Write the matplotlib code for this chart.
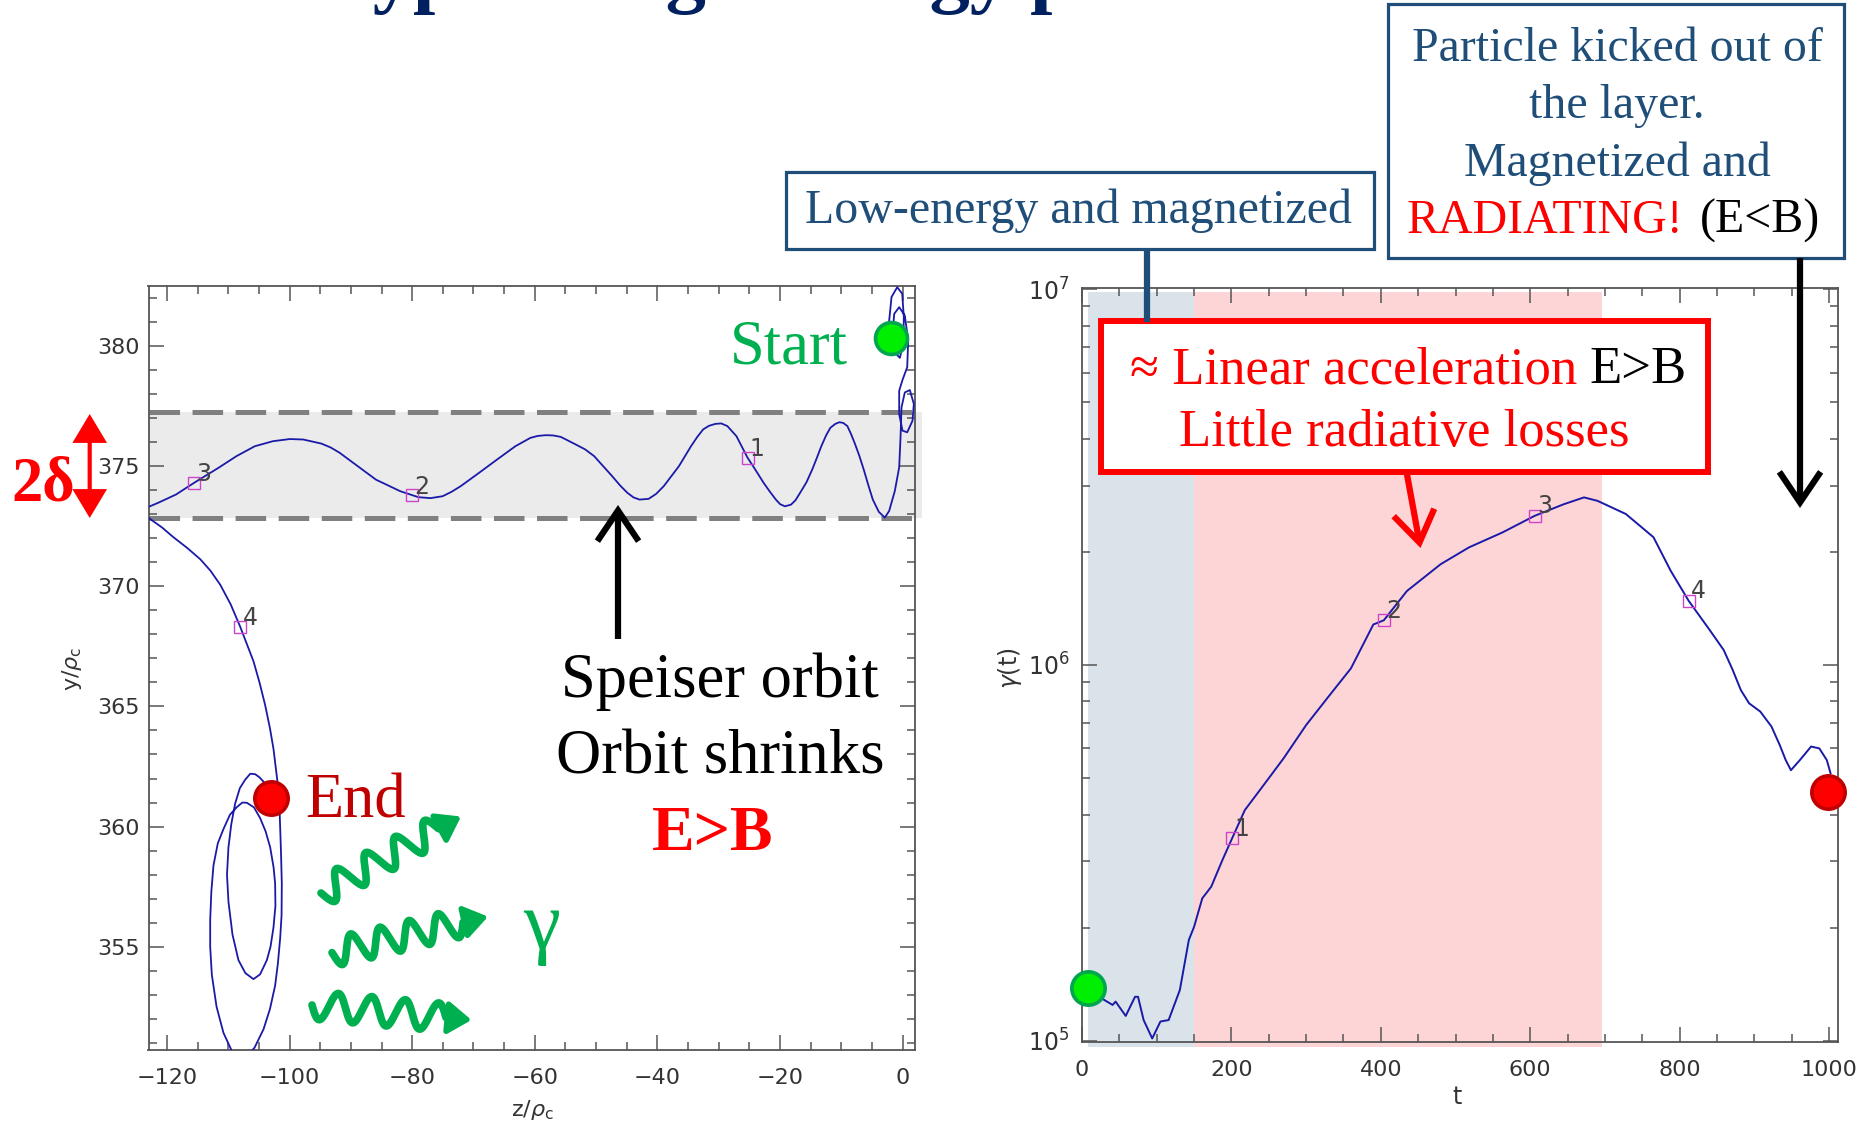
import numpy as np
import matplotlib.pyplot as plt
from matplotlib.patches import Rectangle
from matplotlib.ticker import MultipleLocator, LogLocator, NullFormatter

plt.rcParams['lines.scale_dashes'] = False

# orbit of the particle in the (z, y) plane, in units of rho_c
# gyration near the start point
start_z = [-1.99, -2.21, -1.83, -0.90, -0.09, 0.18, 0.07, -0.47, -1.34, -1.67,
           -1.39, -0.58, 0.34, 0.89, 0.73, -0.04, -0.58, -0.58, -0.04, 0.73,
           1.59, 1.81, 1.16, 0.34, -0.20, -0.36, -0.58, -1.29, -2.21, -2.92]
start_y = [380.34, 381.06, 382.04, 382.45, 382.18, 381.20, 380.09, 379.51, 379.74, 380.51,
           381.34, 381.62, 381.27, 380.23, 379.12, 378.59, 378.14, 377.17, 376.48, 376.41,
           376.89, 377.59, 378.17, 378.07, 377.45, 376.20, 374.95, 373.97, 373.14, 372.86]
# Speiser orbit inside the layer
speiser_z = [-3.90, -4.88, -5.60, -6.36, -7.10, -7.85, -8.45, -9.03, -9.70, -10.32,
             -11.00, -11.80, -12.50, -13.28, -14.00, -14.76, -15.70, -16.74, -17.50, -18.22,
             -19.21, -20.00, -20.69, -21.70, -22.67, -24.15, -25.30, -26.20, -27.12, -28.60,
             -29.60, -30.57, -31.60, -32.55, -33.50, -34.53, -36.50, -38.97, -40.20, -41.44,
             -42.92, -43.90, -44.90, -46.10, -47.37, -50.33, -51.80, -53.30, -55.77, -57.00,
             -58.23, -59.50, -60.71, -63.18, -66.14, -69.11, -72.08, -73.60, -75.04, -77.02,
             -78.99, -81.96, -85.91, -88.87, -91.84, -93.30, -94.80, -97.77, -99.94, -102.71,
             -105.67, -108.64, -111.60, -115.55, -118.52, -121.48, -122.96, -124.00]
speiser_y = [373.10, 373.61, 374.20, 374.86, 375.45, 375.97, 376.35, 376.67, 376.80, 376.83,
             376.76, 376.60, 376.28, 375.83, 375.35, 374.86, 374.33, 373.89, 373.58, 373.40,
             373.33, 373.42, 373.61, 373.95, 374.30, 374.90, 375.35, 375.80, 376.25, 376.67,
             376.78, 376.76, 376.68, 376.53, 376.22, 375.83, 375.00, 374.17, 373.85, 373.64,
             373.61, 373.70, 373.89, 374.20, 374.58, 375.42, 375.70, 375.90, 376.22, 376.28,
             376.29, 376.26, 376.18, 375.83, 375.28, 374.72, 374.17, 373.93, 373.75, 373.67,
             373.71, 373.96, 374.44, 375.00, 375.56, 375.78, 375.94, 376.11, 376.13, 376.04,
             375.83, 375.42, 374.93, 374.31, 373.82, 373.47, 373.31, 373.10]
# ejection from the layer and final gyration
exit_z = [-122.72, -120.80, -118.92, -116.70, -114.57, -112.90, -111.31, -109.60, -108.05, -106.90,
          -105.88, -104.90, -103.98, -103.20, -102.62, -101.97, -101.60, -101.40, -101.26, -101.30,
          -101.53, -101.90, -102.35, -103.20, -104.25, -105.70, -107.51, -109.30, -110.77, -111.90,
          -112.67, -112.94, -112.94, -112.75, -112.40, -111.70, -110.77, -109.70, -108.59, -107.70,
          -106.96, -105.80, -104.79, -103.90, -103.16, -102.60, -102.35, -102.30, -102.62, -103.10,
          -103.70, -104.80, -105.88, -107.20, -108.33, -109.30, -109.96, -110.20, -109.96, -109.50,
          -108.87, -108.10, -107.24, -106.40, -105.61, -104.90, -104.25, -103.00]
exit_y = [372.80, 372.45, 372.04, 371.60, 371.13, 370.65, 370.07, 369.25, 368.32, 367.55,
          366.88, 366.00, 365.06, 364.10, 363.24, 361.87, 360.50, 359.00, 357.63, 356.30,
          355.35, 354.30, 353.38, 352.40, 351.56, 350.80, 350.27, 350.60, 351.41, 352.50,
          353.83, 355.00, 356.11, 357.30, 358.39, 359.30, 359.90, 360.50, 360.81, 361.00,
          360.99, 360.80, 360.35, 359.80, 359.14, 358.30, 357.63, 356.70, 355.80, 355.00,
          354.44, 353.85, 353.65, 353.90, 354.44, 355.50, 356.87, 358.00, 359.14, 360.10,
          360.96, 361.60, 361.95, 362.20, 362.18, 362.05, 361.87, 361.19]
orbit_mark_z = [-25.3, -80.0, -115.55, -108.05]
orbit_mark_y = [375.35, 373.79, 374.31, 368.32]
mark_labels = ['1', '2', '3', '4']
layer_y = [372.85, 377.25]

# Lorentz factor along the orbit
t_vals = [7.5, 26, 41, 45, 58.5, 71, 75, 82.5, 94, 105,
          116, 131, 143, 150, 161, 173, 188, 201, 218, 240,
          270, 300, 330, 360, 390, 404, 435, 480, 518, 563,
          606, 645, 672, 690, 728, 765, 788, 812, 841, 859,
          871, 882, 893, 908, 923, 934, 942, 949, 961, 976,
          987, 997, 1002]
gamma_vals = [1.384e5, 1.297e5, 1.245e5, 1.271e5, 1.164e5, 1.309e5, 1.309e5, 1.135e5, 1.014e5, 1.125e5,
              1.135e5, 1.365e5, 1.854e5, 2.009e5, 2.393e5, 2.570e5, 3.027e5, 3.459e5, 4.111e5, 4.699e5,
              5.649e5, 6.918e5, 8.241e5, 9.795e5, 1.282e6, 1.315e6, 1.574e6, 1.854e6, 2.056e6, 2.254e6,
              2.495e6, 2.679e6, 2.793e6, 2.735e6, 2.523e6, 2.188e6, 1.782e6, 1.483e6, 1.233e6, 1.096e6,
              9.705e5, 8.570e5, 7.907e5, 7.516e5, 6.855e5, 6.124e5, 5.585e5, 5.248e5, 5.585e5, 6.067e5,
              5.998e5, 5.585e5, 5.152e5]
gamma_mark_t = [201, 404, 606, 812]
gamma_mark_g = [3.459e5, 1.315e6, 2.495e6, 1.483e6]
gamma_end = (998, 4.6e5)
phase_low = (7.5, 150)
phase_linear = (150, 696)

orbit_z = start_z + speiser_z + exit_z
orbit_y = start_y + speiser_y + exit_y

W, H = 1860, 1122
fig = plt.figure(figsize=(W / 100, H / 100), dpi=100)

NAVY = '#1f4e79'
GREEN = '#00b050'
ORBIT = '#1a1aa8'
BOX_MAGENTA = '#cc44cc'
SERIF = 'Liberation Serif'


def px_axes(left, top, right, bottom):
    return fig.add_axes([left / W, 1 - bottom / H, (right - left) / W, (bottom - top) / H])


def style(ax):
    for s in ax.spines.values():
        s.set_color('#555555')
        s.set_linewidth(1.3)
    ax.tick_params(which='both', direction='in', top=True, right=True,
                   color='#555555', labelcolor='#333333', labelsize=16, width=1.1)
    ax.tick_params(which='major', length=11)
    ax.tick_params(which='minor', length=6)


# left panel: orbit
ax1 = px_axes(148.5, 286, 915, 1050)
style(ax1)
ax1.set_xlim(-123, 2)
ax1.set_ylim(350.7, 382.5)
ax1.xaxis.set_major_locator(MultipleLocator(20))
ax1.xaxis.set_minor_locator(MultipleLocator(5))
ax1.yaxis.set_major_locator(MultipleLocator(5))
ax1.yaxis.set_minor_locator(MultipleLocator(1))
ax1.tick_params(axis='x', pad=13)
ax1.tick_params(axis='y', pad=6)

ytr = ax1.get_yaxis_transform()
ax1.add_patch(Rectangle((0, layer_y[0]), 1.009, layer_y[1] - layer_y[0], transform=ytr,
                        facecolor='#ebebeb', edgecolor='none', zorder=0.5, clip_on=False))
for yl in layer_y:
    ax1.plot([0, 1.009], [yl, yl], transform=ytr, color='#808080', lw=3.6,
             linestyle=(0, (22, 9)), clip_on=False, zorder=1)
ax1.plot(orbit_z, orbit_y, color=ORBIT, lw=1.3, zorder=3, solid_joinstyle='round')
ax1.plot(orbit_mark_z, orbit_mark_y, ls='none', marker='s', ms=8.5, mfc='none',
         mec=BOX_MAGENTA, mew=1.0, zorder=4)
for z, y, lab in zip(orbit_mark_z, orbit_mark_y, mark_labels):
    ax1.annotate(lab, (z, y), xytext=(7, 6), textcoords='offset points', ha='center',
                 va='center', fontsize=17, color='#444444', zorder=5)
ax1.plot(orbit_z[0], orbit_y[0], 'o', ms=23, mfc='#00ee00', mec='#00a550', mew=2.6,
         clip_on=False, zorder=6)
ax1.plot(orbit_z[-1], orbit_y[-1], 'o', ms=24, mfc='#ff0000', mec='#c00000', mew=2.6,
         clip_on=False, zorder=6)
fig.text(532 / W, 1 - 1110 / H, r'z/$\rho_{\rm c}$', fontsize=16, color='#333333',
         ha='center', va='center')
fig.text(72 / W, 1 - 669 / H, r'y/$\rho_{\rm c}$', fontsize=16, color='#333333',
         ha='center', va='center', rotation=90)

# right panel: gamma(t)
ax2 = px_axes(1082, 288.3, 1838, 1041.7)
style(ax2)
ax2.set_yscale('log')
ax2.set_xlim(0, 1012)
ax2.set_ylim(0.994e5, 1.006e7)
ax2.xaxis.set_major_locator(MultipleLocator(200))
ax2.xaxis.set_minor_locator(MultipleLocator(50))
ax2.yaxis.set_major_locator(LogLocator(base=10))
ax2.yaxis.set_minor_locator(LogLocator(base=10, subs=np.arange(2, 10)))
ax2.yaxis.set_minor_formatter(NullFormatter())
ax2.tick_params(axis='x', pad=13)
ax2.tick_params(axis='y', pad=9, labelsize=17)

xtr = ax2.get_xaxis_transform()
ax2.add_patch(Rectangle((phase_low[0], -0.007), phase_low[1] - phase_low[0], 1.0025,
                        transform=xtr, facecolor='#dae2ea', edgecolor='none',
                        zorder=0.5, clip_on=False))
ax2.add_patch(Rectangle((phase_linear[0], -0.007), phase_linear[1] - phase_linear[0], 1.0025,
                        transform=xtr, facecolor='#fdd5d7', edgecolor='none',
                        zorder=0.5, clip_on=False))
ax2.plot(t_vals, gamma_vals, color=ORBIT, lw=1.4, zorder=3, solid_joinstyle='round')
ax2.plot(gamma_mark_t, gamma_mark_g, ls='none', marker='s', ms=8.5, mfc='none',
         mec=BOX_MAGENTA, mew=1.0, zorder=4)
for t, g, lab in zip(gamma_mark_t, gamma_mark_g, mark_labels):
    ax2.annotate(lab, (t, g), xytext=(7, 7), textcoords='offset points', ha='center',
                 va='center', fontsize=17, color='#444444', zorder=5)
ax2.plot(t_vals[0], gamma_vals[0], 'o', ms=24, mfc='#00ee00', mec='#00a550', mew=2.6,
         clip_on=False, zorder=6)
ax2.plot(gamma_end[0], gamma_end[1], 'o', ms=24, mfc='#ff0000', mec='#c00000', mew=2.6,
         clip_on=False, zorder=6)
fig.text(1457 / W, 1 - 1097 / H, 't', fontsize=17, color='#333333', ha='center', va='center')
fig.text(1010 / W, 1 - 668 / H, r'$\gamma$(t)', fontsize=17, color='#333333',
         ha='center', va='center', rotation=90)

# overlay in pixel coordinates for the slide annotations
ov = fig.add_axes([0, 0, 1, 1])
ov.set_xlim(0, W)
ov.set_ylim(H, 0)
ov.axis('off')
ov.set_zorder(10)
ov.patch.set_visible(False)


def arrow(x0, y0, x1, y1, color, lw=4.5, style='->,head_length=0.4,head_width=0.27', ms=55):
    ov.annotate('', xy=(x1, y1), xytext=(x0, y0),
                arrowprops=dict(arrowstyle=style, color=color, lw=lw, mutation_scale=ms,
                                shrinkA=0, shrinkB=0, joinstyle='miter', capstyle='butt'))


def photon(x0, y0, x1, y1, ncyc, amp):
    frac = 0.84
    s = np.linspace(0, 1, 300)
    dx, dy = (x1 - x0) * frac, (y1 - y0) * frac
    L = np.hypot(dx, dy)
    nx, ny = -dy / L, dx / L
    w = amp * np.sin(2 * np.pi * ncyc * s)
    ov.plot(x0 + s * dx + w * nx, y0 + s * dy + w * ny, color=GREEN, lw=5.5,
            solid_capstyle='round')
    ov.annotate('', xy=(x1, y1), xytext=(x0 + dx, y0 + dy),
                arrowprops=dict(arrowstyle='-|>,head_length=0.5,head_width=0.35',
                                color=GREEN, lw=4, mutation_scale=28, shrinkA=0, shrinkB=0))


# slide title, cut by the top edge
ov.text(325, -2, 'Typical high-energy particle', fontsize=58, fontweight='bold',
        family=SERIF, color='#002060', ha='left', va='baseline')

# "Low-energy and magnetized"
ov.add_patch(Rectangle((785.5, 171.7), 588, 77.6, facecolor='white', edgecolor=NAVY, lw=2.3))
ov.text(1078, 223, 'Low-energy and magnetized', fontsize=34.5, family=SERIF, color=NAVY,
        ha='center', va='baseline')
ov.plot([1147, 1147], [249.3, 322], color=NAVY, lw=4.5, solid_capstyle='butt')

# "Particle kicked out of the layer"
ov.add_patch(Rectangle((1388, 4), 456, 254, facecolor='white', edgecolor=NAVY, lw=2.3))
for txt, yb in [('Particle kicked out of', 61), ('the layer.', 118), ('Magnetized and', 176)]:
    ov.text(1617, yb, txt, fontsize=34.5, family=SERIF, color=NAVY, ha='center', va='baseline')
ov.text(1683, 233, 'RADIATING!', fontsize=34.5, family=SERIF, color='#ff0000',
        ha='right', va='baseline')
ov.text(1700, 233, '(E<B)', fontsize=34.5, family=SERIF, color='black',
        ha='left', va='baseline')
arrow(1800, 258, 1800, 508, 'black')

# linear acceleration phase
ov.add_patch(Rectangle((1100.6, 320.7), 607.4, 151, facecolor='white', edgecolor='#ff0000', lw=4.3))
ov.text(1577, 383, '\u2248 Linear acceleration', fontsize=38, family=SERIF, color='#ff0000',
        ha='right', va='baseline')
ov.text(1589, 383, 'E>B', fontsize=38, family=SERIF, color='black', ha='left', va='baseline')
ov.text(1404, 446, 'Little radiative losses', fontsize=38, family=SERIF, color='#ff0000',
        ha='center', va='baseline')
arrow(1406.5, 471.7, 1420.5, 548, '#ff0000')

# left panel labels
ov.text(789, 363, 'Start', fontsize=45, family=SERIF, color=GREEN, ha='center', va='baseline')
ov.text(356, 817, 'End', fontsize=45, family=SERIF, color='#c00000', ha='center', va='baseline')
ov.text(720, 697, 'Speiser orbit', fontsize=45, family=SERIF, color='black',
        ha='center', va='baseline')
ov.text(720, 773, 'Orbit shrinks', fontsize=45, family=SERIF, color='black',
        ha='center', va='baseline')
ov.text(713, 850, 'E>B', fontsize=46, family=SERIF, fontweight='bold', color='#ff0000',
        ha='center', va='baseline')
arrow(618, 639, 618, 505, 'black')
ov.text(43, 500, '2\u03b4', fontsize=45, family=SERIF, fontweight='bold', color='#ff0000',
        ha='center', va='baseline')
arrow(89.7, 518, 89.7, 414, '#ff0000', lw=3,
      style='<|-|>,head_length=0.4,head_width=0.24', ms=41)

# emitted photons
photon(321, 893, 461, 816.5, 4.0, 14)
photon(332, 952.6, 488, 916.6, 4.5, 14)
photon(312, 1005, 471.5, 1020, 4.0, 14)
ov.text(542, 948, '\u03b3', fontsize=60, family=SERIF, color=GREEN, ha='center', va='baseline')

fig.savefig('out.png', dpi=100)
